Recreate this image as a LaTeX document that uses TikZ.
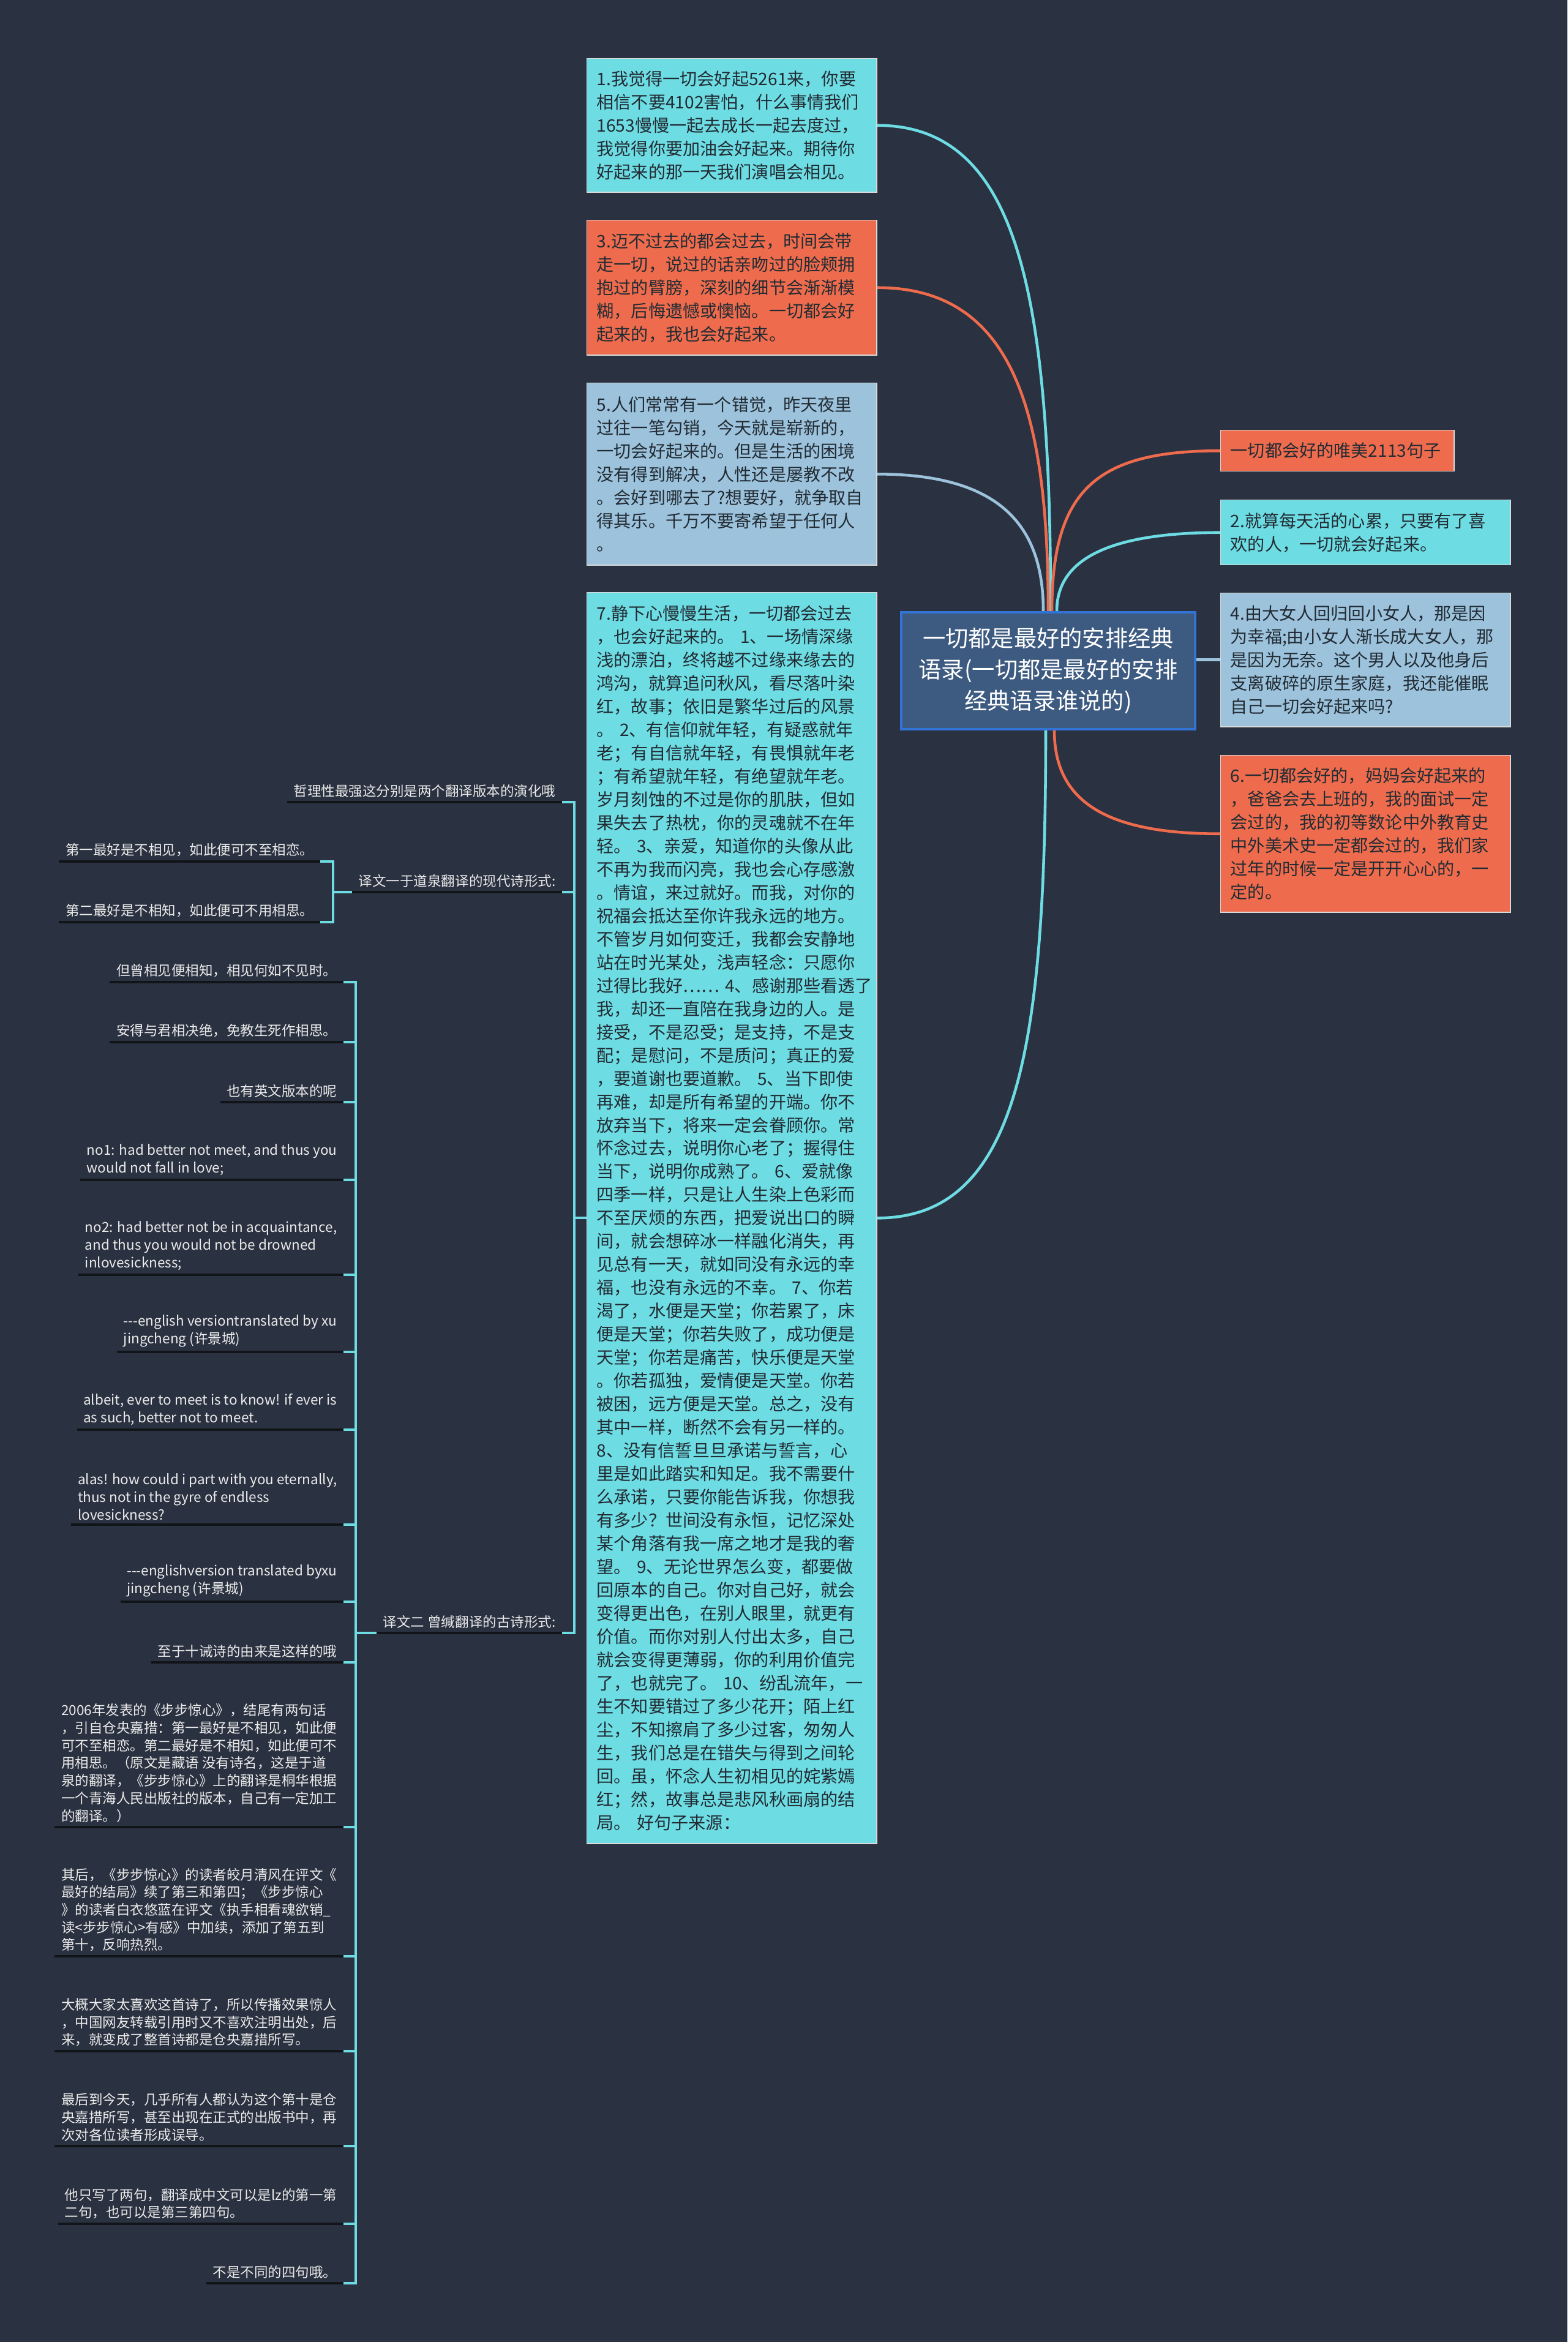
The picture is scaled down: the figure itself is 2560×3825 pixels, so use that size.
\documentclass[tikz,border=0pt]{standalone}
\usepackage{fontspec}
\setmainfont{Noto Sans CJK SC}
\definecolor{bgc}{HTML}{2A3140}
\definecolor{cy}{HTML}{6EDCE3}
\definecolor{og}{HTML}{EE6C4D}
\definecolor{lb}{HTML}{9CC2DC}
\definecolor{rootfill}{HTML}{3D5A80}
\definecolor{rootline}{HTML}{3273D6}
\definecolor{ink}{HTML}{222B33}
\definecolor{paper}{HTML}{EBEBEB}
\definecolor{ulcol}{HTML}{111419}
\tikzset{
  card/.style={draw=white!85!black, line width=0.4pt, text=ink, anchor=north west,
    text width=4.41cm, inner xsep=0.16cm, inner ysep=0pt, align=left,
    font=\fontsize{8pt}{10.8pt}\selectfont},
  leaf/.style={text=paper, anchor=south east, align=left, inner xsep=0.1cm,
    inner ysep=0.07cm, font=\fontsize{6.4pt}{8.17pt}\selectfont},
  curve/.style={line width=1.3pt},
  twig/.style={cy, line width=1.2pt},
  under/.style={ulcol, line width=1pt}
}
\begin{document}
\begin{tikzpicture}[x=0.01cm, y=-0.01cm]
  \useasboundingbox[fill=bgc] (0,0) rectangle (2560,3825);
  \node[draw=rootline, line width=1.2pt, fill=rootfill, text=white, minimum width=4.8cm,
    minimum height=1.91cm, align=center, font=\fontsize{10.6pt}{14.5pt}\selectfont]
    (root) at (1712,1095.5) {一切都是最好的安排经典\\语录(一切都是最好的安排\\经典语录谁说的)};
  % left column
  \node[card, fill=cy, minimum height=2.18cm] (b1) at (958,95)
    {1.我觉得一切会好起5261来，你要\\相信不要4102害怕，什么事情我们\\1653慢慢一起去成长一起去度过，\\我觉得你要加油会好起来。期待你\\好起来的那一天我们演唱会相见。};
  \node[card, fill=og, minimum height=2.2cm] (b3) at (958,359)
    {3.迈不过去的都会过去，时间会带\\走一切，说过的话亲吻过的脸颊拥\\抱过的臂膀，深刻的细节会渐渐模\\糊，后悔遗憾或懊恼。一切都会好\\起来的，我也会好起来。};
  \node[card, fill=lb, minimum height=2.97cm] (b5) at (958,625)
    {5.人们常常有一个错觉，昨天夜里\\过往一笔勾销，今天就是崭新的，\\一切会好起来的。但是生活的困境\\没有得到解决，人性还是屡教不改\\。会好到哪去了?想要好，就争取自\\得其乐。千万不要寄希望于任何人\\。};
  \node[card, fill=cy, minimum height=20.42cm] (b7) at (958,967)
    {7.静下心慢慢生活，一切都会过去\\，也会好起来的。~1、一场情深缘\\浅的漂泊，终将越不过缘来缘去的\\鸿沟，就算追问秋风，看尽落叶染\\红，故事；依旧是繁华过后的风景\\。~2、有信仰就年轻，有疑惑就年\\老；有自信就年轻，有畏惧就年老\\；有希望就年轻，有绝望就年老。\\岁月刻蚀的不过是你的肌肤，但如\\果失去了热枕，你的灵魂就不在年\\轻。~3、亲爱，知道你的头像从此\\不再为我而闪亮，我也会心存感激\\。情谊，来过就好。而我，对你的\\祝福会抵达至你许我永远的地方。\\不管岁月如何变迁，我都会安静地\\站在时光某处，浅声轻念：只愿你\\过得比我好……~4、感谢那些看透了\\我，却还一直陪在我身边的人。是\\接受，不是忍受；是支持，不是支\\配；是慰问，不是质问；真正的爱\\，要道谢也要道歉。~5、当下即使\\再难，却是所有希望的开端。你不\\放弃当下，将来一定会眷顾你。常\\怀念过去，说明你心老了；握得住\\当下，说明你成熟了。~6、爱就像\\四季一样，只是让人生染上色彩而\\不至厌烦的东西，把爱说出口的瞬\\间，就会想碎冰一样融化消失，再\\见总有一天，就如同没有永远的幸\\福，也没有永远的不幸。~7、你若\\渴了，水便是天堂；你若累了，床\\便是天堂；你若失败了，成功便是\\天堂；你若是痛苦，快乐便是天堂\\。你若孤独，爱情便是天堂。你若\\被困，远方便是天堂。总之，没有\\其中一样，断然不会有另一样的。\\8、没有信誓旦旦承诺与誓言，心\\里是如此踏实和知足。我不需要什\\么承诺，只要你能告诉我，你想我\\有多少？世间没有永恒，记忆深处\\某个角落有我一席之地才是我的奢\\望。~9、无论世界怎么变，都要做\\回原本的自己。你对自己好，就会\\变得更出色，在别人眼里，就更有\\价值。而你对别人付出太多，自己\\就会变得更薄弱，你的利用价值完\\了，也就完了。~10、纷乱流年，一\\生不知要错过了多少花开；陌上红\\尘，不知擦肩了多少过客，匆匆人\\生，我们总是在错失与得到之间轮\\回。虽，怀念人生初相见的姹紫嫣\\红；然，故事总是悲风秋画扇的结\\局。~好句子来源：};
  % right column
  \node[card, fill=og, text width=3.49cm, minimum height=0.67cm] (r0) at (1993,702)
    {一切都会好的唯美2113句子};
  \node[card, fill=cy, minimum height=1.06cm] (r2) at (1993,816)
    {2.就算每天活的心累，只要有了喜\\欢的人，一切就会好起来。};
  \node[card, fill=lb, minimum height=2.18cm] (r4) at (1993,968)
    {4.由大女人回归回小女人，那是因\\为幸福;由小女人渐长成大女人，那\\是因为无奈。这个男人以及他身后\\支离破碎的原生家庭，我还能催眠\\自己一切会好起来吗?};
  \node[card, fill=og, minimum height=2.56cm] (r6) at (1993,1233)
    {6.一切都会好的，妈妈会好起来的\\，爸爸会去上班的，我的面试一定\\会过的，我的初等数论中外教育史\\中外美术史一定都会过的，我们家\\过年的时候一定是开开心心的，一\\定的。};
  \draw[curve, cy] (b1.east) .. controls +(230,0) and +(0,-520) .. ([xshift=0.04cm]root.north);
  \draw[curve, og] (b3.east) .. controls +(220,0) and +(0,-330) .. (root.north);
  \draw[curve, lb] (b5.east) .. controls +(200,0) and +(0,-140) .. ([xshift=-0.08cm]root.north);
  \draw[curve, cy] (b7.east) .. controls +(230,0) and +(0,520) .. ([xshift=-0.04cm]root.south);
  \draw[curve, og] ([xshift=0.06cm]root.north) .. controls +(0,-200) and +(-200,0) .. (r0.west);
  \draw[curve, cy] ([xshift=0.14cm]root.north) .. controls +(0,-90) and +(-170,0) .. (r2.west);
  \draw[curve, lb] (root.east |- r4.west) -- (r4.west);
  \draw[curve, og] ([xshift=0.1cm]root.south) .. controls +(0,120) and +(-180,0) .. (r6.west);
  % translations
  \node[leaf] (zl) at (918,1310) {哲理性最强这分别是两个翻译版本的演化哦};
  \node[leaf] (yw1) at (918,1457) {译文一于道泉翻译的现代诗形式:};
  \node[leaf] (yw2) at (918,2667) {译文二 曾缄翻译的古诗形式:};
  \node[leaf] (p1) at (523,1407) {第一最好是不相见，如此便可不至相恋。};
  \node[leaf] (p2) at (523,1506) {第二最好是不相知，如此便可不用相思。};
  \node[leaf] (s1) at (561,1604) {但曾相见便相知，相见何如不见时。};
  \node[leaf] (s2) at (561,1702) {安得与君相决绝，免教生死作相思。};
  \node[leaf] (s3) at (561,1800) {也有英文版本的呢};
  \node[leaf] (s4) at (561,1927) {no1: had better not meet, and thus you\\would not fall in love;};
  \node[leaf] (s5) at (561,2082) {no2: had better not be in acquaintance,\\and thus you would not be drowned\\inlovesickness;};
  \node[leaf] (s6) at (561,2208) {{-}{-}{-}english versiontranslated by xu\\jingcheng (许景城)};
  \node[leaf] (s7) at (561,2335) {albeit, ever to meet is to know! if ever is\\as such, better not to meet.};
  \node[leaf] (s8) at (561,2490) {alas! how could i part with you eternally,\\thus not in the gyre of endless\\lovesickness?};
  \node[leaf] (s9) at (561,2616) {{-}{-}{-}englishversion translated byxu\\jingcheng (许景城)};
  \node[leaf] (s10) at (561,2715) {至于十诫诗的由来是这样的哦};
  \node[leaf] (s11) at (561,2984) {2006年发表的《步步惊心》，结尾有两句话\\，引自仓央嘉措：第一最好是不相见，如此便\\可不至相恋。第二最好是不相知，如此便可不\\用相思。（原文是藏语 没有诗名，这是于道\\泉的翻译，《步步惊心》上的翻译是桐华根据\\一个青海人民出版社的版本，自己有一定加工\\的翻译。）};
  \node[leaf] (s12) at (561,3195) {其后，《步步惊心》的读者皎月清风在评文《\\最好的结局》续了第三和第四；《步步惊心\\》的读者白衣悠蓝在评文《执手相看魂欲销\_\\读<步步惊心>有感》中加续，添加了第五到\\第十，反响热烈。};
  \node[leaf] (s13) at (561,3350) {大概大家太喜欢这首诗了，所以传播效果惊人\\，中国网友转载引用时又不喜欢注明出处，后\\来，就变成了整首诗都是仓央嘉措所写。};
  \node[leaf] (s14) at (561,3505) {最后到今天，几乎所有人都认为这个第十是仓\\央嘉措所写，甚至出现在正式的出版书中，再\\次对各位读者形成误导。};
  \node[leaf] (s15) at (561,3632) {他只写了两句，翻译成中文可以是lz的第一第\\二句，也可以是第三第四句。};
  \node[leaf] (s16) at (561,3729) {不是不同的四句哦。};
  \foreach \n in {zl,yw1,yw2,p1,p2}
    \draw[under] (\n.south west) -- (\n.south east);
  \foreach \i in {1,...,16}
    \draw[under] (s\i.south west) -- (s\i.south east);
  \foreach \n in {zl,yw1,yw2}
    \draw[twig] (\n.south east) -- ++(20,0) |- (b7.west);
  \foreach \n in {p1,p2}
    \draw[twig] (\n.south east) -- ++(21,0) |- (yw1.south west);
  \foreach \i in {1,...,16}
    \draw[twig] (s\i.south east) -- ++(20,0) |- (yw2.south west);
\end{tikzpicture}
\end{document}
